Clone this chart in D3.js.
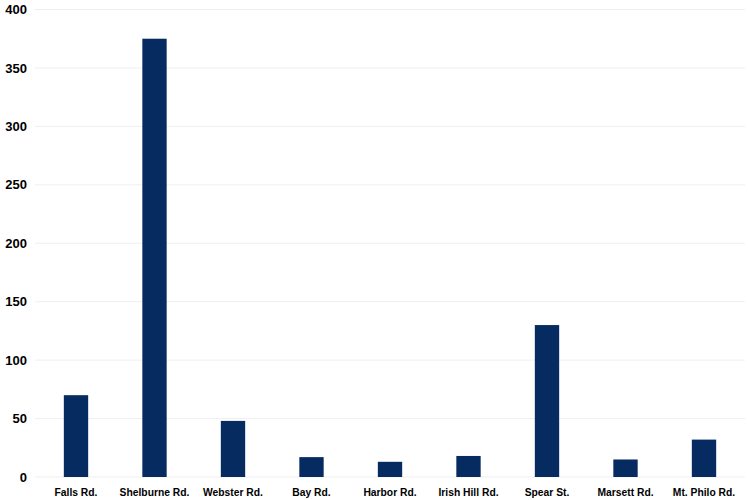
<!DOCTYPE html>
<html><head><meta charset="utf-8">
<script src="https://cdn.jsdelivr.net/npm/d3@7"></script>
<style>body{margin:0;background:#fff}</style>
</head><body>
<svg id="c" width="748" height="500"></svg>
<script>
const categories = ["Falls Rd.","Shelburne Rd.","Webster Rd.","Bay Rd.","Harbor Rd.","Irish Hill Rd.","Spear St.","Marsett Rd.","Mt. Philo Rd."];
const values = [70, 375, 48, 17, 13, 18, 130, 15, 32];
const yTicks = [0,50,100,150,200,250,300,350,400];

const svg = d3.select("#c");
const x = d3.scaleBand().domain(categories).range([36.75, 743.25]).paddingInner(0.69).paddingOuter(0.345);
const y = d3.scaleLinear().domain([0,400]).range([477, 9.5]);

// gridlines
svg.append("g").selectAll("line").data(yTicks).join("line")
  .attr("x1", 35).attr("x2", 745)
  .attr("y1", d=>y(d)).attr("y2", d=>y(d))
  .attr("stroke", "#efefef").attr("stroke-width", 1);

// y axis
const ya = svg.append("g").attr("transform","translate(27,0)")
  .call(d3.axisLeft(y).tickValues(yTicks).tickSize(0).tickPadding(0));
ya.select(".domain").remove();
ya.selectAll("text").attr("font-family","'Liberation Sans', Arial, sans-serif")
  .attr("font-size","13px").attr("font-weight","bold").attr("fill","#000");

// bars
svg.append("g").selectAll("rect").data(values).join("rect")
  .attr("x",(d,i)=>x(categories[i])).attr("width",x.bandwidth())
  .attr("y",d=>y(d)).attr("height",d=>y(0)-y(d)).attr("fill","#052b60");

// x axis
const xa = svg.append("g").attr("transform","translate(0,495.5)")
  .call(d3.axisBottom(x).tickSize(0).tickPadding(0));
xa.select(".domain").remove();
xa.selectAll("text").attr("dy","0").attr("font-family","'Liberation Sans', Arial, sans-serif")
  .attr("font-size","10.3px").attr("font-weight","bold").attr("fill","#000");
</script>
</body></html>
